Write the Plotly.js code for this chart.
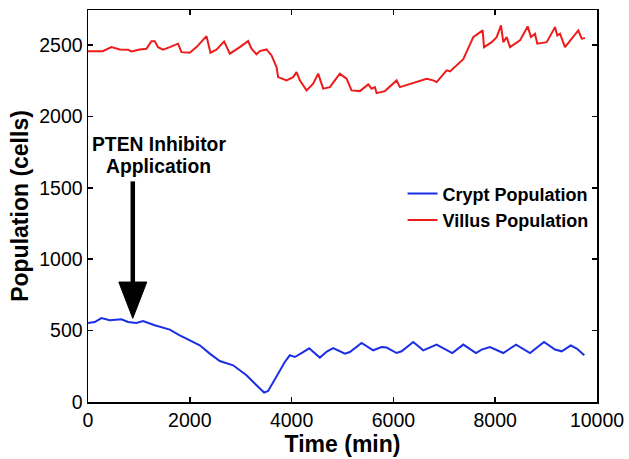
<!DOCTYPE html>
<html>
<head>
<meta charset="utf-8">
<script src="https://cdn.plot.ly/plotly-3.0.1.min.js"></script>
<style>html,body{margin:0;padding:0;background:#fff;}#chart{width:629px;height:459px;}</style>
</head>
<body>
<div id="chart"></div>
<script>
// Crypt population (blue)
const cryptTime = [0,132,263,427,656,786,951,1081,1311,1607,1803,2064,2196,2393,2589,2851,3114,3311,3460,3539,3704,3867,3965,4064,4227,4345,4555,4699,4817,5047,5145,5375,5603,5768,5866,6063,6161,6390,6586,6849,7157,7373,7622,7734,7897,8159,8409,8684,8959,9175,9307,9484,9602,9751];
const cryptPop  = [553,560,588,572,579,560,553,567,537,507,467,420,397,339,287,257,187,117,66,77,180,280,327,315,350,376,311,355,378,339,350,413,362,385,381,343,355,420,362,402,343,402,343,367,385,343,402,343,420,367,355,397,374,327];
// Villus population (red)
const villusTime = [0,290,460,623,786,853,1016,1148,1246,1311,1376,1475,1607,1769,1836,1999,2131,2328,2406,2524,2674,2786,2982,3146,3212,3311,3376,3507,3606,3704,3735,3900,4030,4097,4162,4294,4424,4522,4620,4752,4948,5080,5178,5341,5505,5572,5637,5670,5833,6063,6128,6423,6653,6783,6850,7046,7111,7373,7569,7754,7780,7931,8029,8114,8159,8226,8291,8487,8638,8703,8782,8827,9012,9175,9220,9273,9371,9633,9700,9765];
const villusPop  = [2457,2457,2485,2469,2467,2455,2469,2474,2527,2527,2485,2467,2485,2509,2450,2446,2485,2562,2446,2467,2525,2439,2485,2527,2474,2435,2457,2469,2427,2345,2275,2252,2275,2310,2252,2182,2229,2299,2194,2205,2299,2264,2182,2177,2224,2194,2205,2163,2177,2252,2205,2240,2264,2252,2240,2322,2315,2400,2555,2602,2485,2520,2555,2637,2520,2555,2485,2532,2630,2555,2579,2509,2520,2625,2567,2579,2485,2602,2544,2548];
const seriesNames = ["Crypt Population","Villus Population"];
const xTicks = [0,2000,4000,6000,8000,10000];
const yTicks = [0,500,1000,1500,2000,2500];
const annotationLines = ["PTEN Inhibitor", "Application"];
const annotationY = [1806, 1648];
const annotationX = 1390;
// arrow (data coordinates)
const arrowX = 880, arrowTop = 1545, arrowHeadBase = 840, arrowTip = 586, arrowHalfW = 275;

const FONT = "Liberation Sans, Arial, Helvetica, sans-serif";
const traces = [
  {x: cryptTime, y: cryptPop, name: seriesNames[0], mode: "lines", line: {color: "#1a2ee6", width: 2}},
  {x: villusTime, y: villusPop, name: seriesNames[1], mode: "lines", line: {color: "#ee1b1b", width: 2}}
];
const axisCommon = {
  showline: true, linecolor: "#000", linewidth: 1.5, mirror: "ticks",
  ticks: "inside", ticklen: 5, tickwidth: 1.5, tickcolor: "#000",
  showgrid: false, zeroline: false,
  tickfont: {family: FONT, size: 19.5, color: "#000"}
};
const layout = {
  width: 629, height: 459,
  margin: {l: 88, r: 32, t: 10, b: 57},
  paper_bgcolor: "#fff", plot_bgcolor: "#fff",
  showlegend: true,
  legend: {x: 0.618, y: 0.498, xanchor: "left", yanchor: "middle", bgcolor: "rgba(0,0,0,0)",
           font: {family: FONT, size: 18, color: "#000", weight: "bold"}, tracegroupgap: 0},
  xaxis: Object.assign({}, axisCommon, {range: [0, 10000], tickvals: xTicks, ticktext: xTicks.map(String),
          title: {text: "<b>Time (min)</b>", font: {family: FONT, size: 23, color: "#000"}, standoff: 3}}),
  yaxis: Object.assign({}, axisCommon, {range: [0, 2745], tickvals: yTicks, ticktext: yTicks.map(String),
          title: {text: "<b>Population (cells)</b>", font: {family: FONT, size: 23, color: "#000"}, standoff: 4}}),
  annotations: annotationLines.map((t, i) => ({
    x: annotationX, y: annotationY[i], xref: "x", yref: "y", text: "<b>" + t + "</b>", showarrow: false,
    font: {family: FONT, size: 19.3, color: "#000"}, align: "center", borderpad: 0
  })),
  shapes: [
    {type: "line", xref: "x", yref: "y", x0: arrowX, x1: arrowX, y0: arrowTop, y1: arrowHeadBase,
     line: {color: "#000", width: 4.5}},
    {type: "path", xref: "x", yref: "y",
     path: "M" + (arrowX - arrowHalfW) + "," + arrowHeadBase + " L" + (arrowX + arrowHalfW) + "," + arrowHeadBase + " L" + arrowX + "," + arrowTip + " Z",
     fillcolor: "#000", line: {color: "#000", width: 1}}
  ]
};
Plotly.newPlot("chart", traces, layout, {displayModeBar: false, staticPlot: true});
</script>
</body>
</html>
